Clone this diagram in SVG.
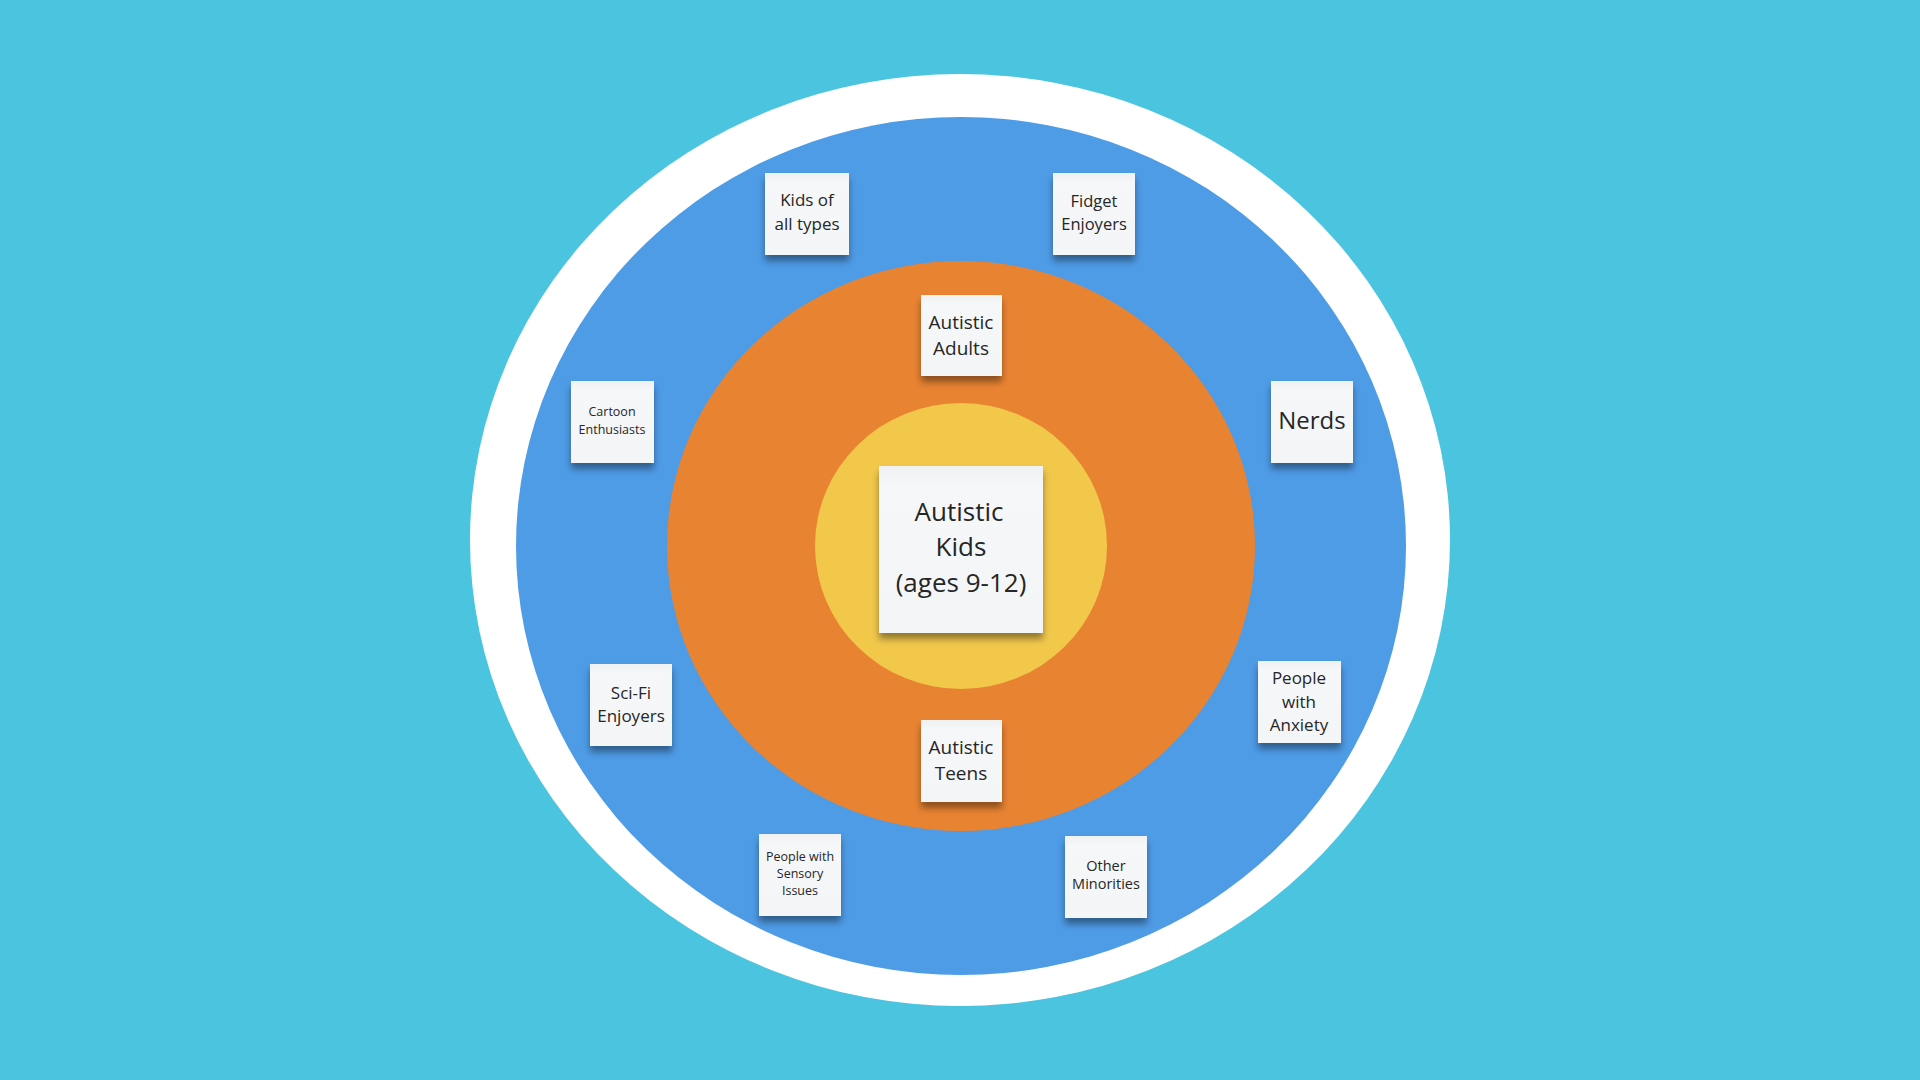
<svg xmlns="http://www.w3.org/2000/svg" width="1920" height="1080" viewBox="0 0 1920 1080">
<defs>
<linearGradient id="paper" x1="0" y1="0" x2="0" y2="1">
<stop offset="0" stop-color="#eff1f3"/>
<stop offset="0.12" stop-color="#f6f7f8"/>
<stop offset="1" stop-color="#f3f5f7"/>
</linearGradient>
<filter id="shadow" x="-20%" y="-20%" width="140%" height="150%">
<feGaussianBlur in="SourceAlpha" stdDeviation="3.5"/>
<feOffset dx="0" dy="6" result="b"/>
<feComponentTransfer><feFuncA type="linear" slope="0.4"/></feComponentTransfer>
<feMerge><feMergeNode/><feMergeNode in="SourceGraphic"/></feMerge>
</filter>
</defs>
<style>
.note{fill:url(#paper);filter:url(#shadow)}
text{font-family:"Open Sans","Noto Sans","DejaVu Sans",sans-serif;fill:#262626;text-anchor:middle}
</style>
<rect width="1920" height="1080" fill="#4bc4df"/>
<g id="rings">
<ellipse cx="960" cy="540" rx="490" ry="466" fill="#ffffff"/>
<ellipse cx="961" cy="546" rx="445" ry="429" fill="#4e9be6"/>
<ellipse cx="961" cy="546" rx="294" ry="285" fill="#e88332"/>
<ellipse cx="961" cy="546" rx="146" ry="143" fill="#f2c84b"/>
</g>
<g id="connectors"></g>
<g id="center">
<rect class="note" x="879" y="466" width="164" height="167"/>
<text font-size="26"><tspan x="959" y="521">Autistic</tspan><tspan x="961" y="556">Kids</tspan><tspan x="961" y="592">(ages 9-12)</tspan></text>
</g>
<g id="adults">
<rect class="note" x="921" y="295" width="81" height="81"/>
<text font-size="19"><tspan x="961" y="329">Autistic</tspan><tspan x="961" y="355">Adults</tspan></text>
</g>
<g id="teens">
<rect class="note" x="921" y="720" width="81" height="82"/>
<text font-size="19"><tspan x="961" y="754">Autistic</tspan><tspan x="961" y="780">Teens</tspan></text>
</g>
<g id="kids">
<rect class="note" x="765" y="173" width="84" height="82"/>
<text font-size="17"><tspan x="807" y="206">Kids of</tspan><tspan x="807" y="230">all types</tspan></text>
</g>
<g id="fidget">
<rect class="note" x="1053" y="173" width="82" height="82"/>
<text font-size="16.5"><tspan x="1094" y="207">Fidget</tspan><tspan x="1094" y="230">Enjoyers</tspan></text>
</g>
<g id="cartoon">
<rect class="note" x="571" y="381" width="83" height="82"/>
<text font-size="12.5"><tspan x="612" y="416">Cartoon</tspan><tspan x="612" y="434">Enthusiasts</tspan></text>
</g>
<g id="nerds">
<rect class="note" x="1271" y="381" width="82" height="82"/>
<text font-size="24"><tspan x="1312" y="429">Nerds</tspan></text>
</g>
<g id="scifi">
<rect class="note" x="590" y="664" width="82" height="82"/>
<text font-size="17"><tspan x="631" y="699">Sci-Fi</tspan><tspan x="631" y="722">Enjoyers</tspan></text>
</g>
<g id="anxiety">
<rect class="note" x="1258" y="661" width="83" height="82"/>
<text font-size="17"><tspan x="1299" y="684">People</tspan><tspan x="1299" y="708">with</tspan><tspan x="1299" y="731">Anxiety</tspan></text>
</g>
<g id="sensory">
<rect class="note" x="759" y="834" width="82" height="82"/>
<text font-size="12.5"><tspan x="800" y="861">People with</tspan><tspan x="800" y="878">Sensory</tspan><tspan x="800" y="895">Issues</tspan></text>
</g>
<g id="minorities">
<rect class="note" x="1065" y="836" width="82" height="82"/>
<text font-size="14.5"><tspan x="1106" y="871">Other</tspan><tspan x="1106" y="889">Minorities</tspan></text>
</g>
</svg>
